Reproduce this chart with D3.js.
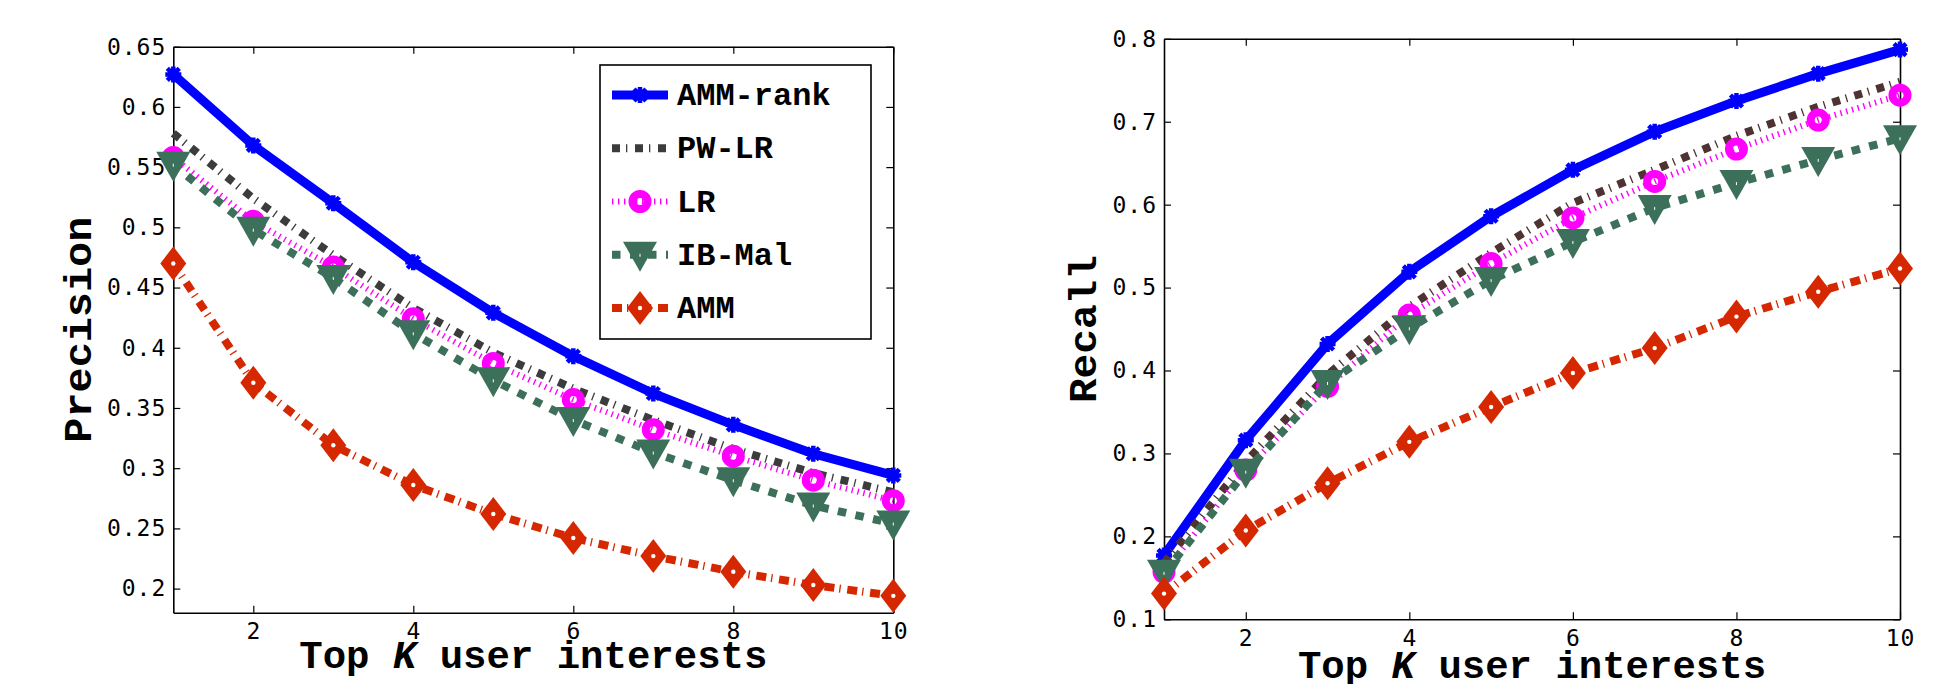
<!DOCTYPE html>
<html>
<head>
<meta charset="utf-8">
<script src="https://cdn.jsdelivr.net/npm/d3@7/dist/d3.min.js"></script>
<style>
  html, body { margin: 0; padding: 0; background: #fff; }
  svg { display: block; }
  .tick text { font-family: "DejaVu Sans Mono", monospace; font-size: 23px; letter-spacing: 1px; fill: #000; }
  .axis-title { font-family: "Liberation Mono", "Courier New", monospace; font-weight: bold; font-size: 39px; fill: #000; }
  .legend-text { font-family: "Liberation Mono", "Courier New", monospace; font-weight: bold; font-size: 32px; fill: #000; }
</style>
</head>
<body>
<div id="chart"></div>
<script>
// values
const kValues = [1, 2, 3, 4, 5, 6, 7, 8, 9, 10];
const seriesNames = ["AMM-rank", "PW-LR", "LR", "IB-Mal", "AMM"];

const precisionAMMrank = [0.627, 0.568, 0.520, 0.471, 0.429, 0.393, 0.362, 0.336, 0.312, 0.294];
const precisionPWLR    = [0.578, 0.524, 0.477, 0.433, 0.396, 0.366, 0.340, 0.316, 0.296, 0.280];
const precisionLR      = [0.558, 0.505, 0.467, 0.424, 0.387, 0.357, 0.332, 0.310, 0.290, 0.273];
const precisionIBMal   = [0.552, 0.498, 0.458, 0.412, 0.373, 0.340, 0.313, 0.290, 0.269, 0.254];
const precisionAMM     = [0.470, 0.371, 0.319, 0.286, 0.262, 0.242, 0.227, 0.214, 0.203, 0.194];

const recallAMMrank = [0.177, 0.316, 0.432, 0.519, 0.586, 0.642, 0.688, 0.725, 0.758, 0.787];
const recallPWLR    = [0.168, 0.290, 0.395, 0.477, 0.542, 0.602, 0.642, 0.683, 0.718, 0.748];
const recallLR      = [0.157, 0.280, 0.381, 0.467, 0.529, 0.584, 0.628, 0.667, 0.702, 0.732];
const recallIBMal   = [0.156, 0.278, 0.385, 0.451, 0.509, 0.555, 0.596, 0.626, 0.654, 0.680];
const recallAMM     = [0.131, 0.207, 0.264, 0.314, 0.356, 0.397, 0.427, 0.465, 0.495, 0.523];

const xTicks = [2, 4, 6, 8, 10];
const precisionTicks = [0.2, 0.25, 0.3, 0.35, 0.4, 0.45, 0.5, 0.55, 0.6, 0.65];
const recallTicks = [0.1, 0.2, 0.3, 0.4, 0.5, 0.6, 0.7, 0.8];

const W = 1934, H = 684;

// line / marker styles, one per series
const styles = {
  "AMM-rank": { color: "#0000ff", width: 9, dash: null, marker: "star" },
  "PW-LR":    { color: "#3c3c3c", width: 8, dash: "8,6,1.3,7.7", marker: null },
  "LR":       { color: "#ff00ff", width: 6, dash: "1.4,4.6", marker: "circle" },
  "IB-Mal":   { color: "#3d705a", width: 8, dash: "8.5,9.5", marker: "tri" },
  "AMM":      { color: "#d62800", width: 8, dash: "10,5,1.3,6.7", marker: "diamond" }
};

const svg = d3.select("#chart").append("svg")
  .attr("width", W)
  .attr("height", H);

function drawMarker(g, type, color) {
  if (type === "star") {
    g.append("path")
      .attr("d", "M-8,0H8M0,-8V8M-6,-6L6,6M-6,6L6,-6")
      .attr("stroke", color).attr("stroke-width", 4.5).attr("fill", "none");
  } else if (type === "circle") {
    g.append("circle").attr("r", 7.5)
      .attr("fill", "none").attr("stroke", color).attr("stroke-width", 8);
  } else if (type === "tri") {
    g.append("path").attr("d", "M-17,-13L17,-13L0,17Z").attr("fill", color);
    g.append("path").attr("d", "M0,-1L0,2").attr("stroke", "#fff").attr("stroke-width", 1);
  } else if (type === "diamond") {
    g.append("path").attr("d", "M0,-17L13,0L0,17L-13,0Z").attr("fill", color);
    g.append("circle").attr("r", 2.2).attr("fill", "#fff");
  }
}

function drawPanel(opt) {
  const { left, right, top, bottom, yDomain, yTicks, series, yTitle, yTitleX, yTitleLen, xTitleY, pwColor } = opt;

  const x = d3.scaleLinear().domain([1, 10]).range([left, right]);
  const y = d3.scaleLinear().domain(yDomain).range([bottom, top]);
  const fmt = d => String(+d.toFixed(2));

  const g = svg.append("g");

  // axes (inward ticks on all four sides, MATLAB box)
  const axB = g.append("g").attr("transform", `translate(0,${bottom})`)
    .call(d3.axisBottom(x).tickValues(xTicks).tickSize(-7).tickSizeOuter(0).tickPadding(10));
  const axT = g.append("g").attr("transform", `translate(0,${top})`)
    .call(d3.axisTop(x).tickValues(xTicks).tickSize(-7).tickSizeOuter(0).tickFormat(""));
  const axL = g.append("g").attr("transform", `translate(${left},0)`)
    .call(d3.axisLeft(y).tickValues(yTicks).tickSize(-7).tickSizeOuter(0).tickPadding(7).tickFormat(fmt));
  const axR = g.append("g").attr("transform", `translate(${right},0)`)
    .call(d3.axisRight(y).tickValues(yTicks).tickSize(-7).tickSizeOuter(0).tickFormat(""));

  [axB, axT, axL, axR].forEach(a => {
    a.select(".domain").attr("stroke", "#000").attr("stroke-width", 1.6);
    a.selectAll(".tick line").attr("stroke", "#000").attr("stroke-width", 1.2);
    a.selectAll(".tick text").attr("font-family", null).attr("font-size", null);
  });

  const line = d3.line()
    .x((d, i) => x(kValues[i]))
    .y(d => y(d));

  series.forEach((vals, si) => {
    const name = seriesNames[si];
    const st = styles[name];
    const color = name === "PW-LR" ? pwColor : st.color;
    g.append("path")
      .datum(vals)
      .attr("d", line)
      .attr("fill", "none")
      .attr("stroke", color)
      .attr("stroke-width", st.width)
      .attr("stroke-dasharray", st.dash)
      .attr("stroke-linecap", "butt")
      .attr("stroke-linejoin", "round");
    if (st.marker) {
      vals.forEach((v, i) => {
        const mg = g.append("g").attr("transform", `translate(${x(kValues[i])},${y(v)})`);
        drawMarker(mg, st.marker, color);
      });
    }
  });

  // titles
  const xt = g.append("text")
    .attr("class", "axis-title")
    .attr("x", (left + right) / 2)
    .attr("y", xTitleY)
    .attr("text-anchor", "middle");
  xt.append("tspan").text("Top ");
  xt.append("tspan").attr("font-style", "italic").text("K");
  xt.append("tspan").text(" user interests");

  g.append("text")
    .attr("class", "axis-title")
    .attr("transform", `translate(${yTitleX},${(top + bottom) / 2}) rotate(-90)`)
    .attr("text-anchor", "middle")
    .attr("textLength", yTitleLen)
    .attr("lengthAdjust", "spacingAndGlyphs")
    .text(yTitle);
}

drawPanel({
  left: 173.3, right: 893.3, top: 46.7, bottom: 612.7,
  yDomain: [0.18, 0.65], yTicks: precisionTicks,
  series: [precisionAMMrank, precisionPWLR, precisionLR, precisionIBMal, precisionAMM],
  yTitle: "Precision", yTitleX: 91, yTitleLen: 226, xTitleY: 668, pwColor: "#3c3c3c"
});

drawPanel({
  left: 1164, right: 1900, top: 38.8, bottom: 619.3,
  yDomain: [0.1, 0.8], yTicks: recallTicks,
  series: [recallAMMrank, recallPWLR, recallLR, recallIBMal, recallAMM],
  yTitle: "Recall", yTitleX: 1096, yTitleLen: 148, xTitleY: 678, pwColor: "#4f3232"
});

// legend (left panel)
const lg = svg.append("g");
lg.append("rect")
  .attr("x", 600).attr("y", 65)
  .attr("width", 271).attr("height", 274)
  .attr("fill", "#fff").attr("stroke", "#000").attr("stroke-width", 1.6);

const rowY = d3.scalePoint().domain(seriesNames).range([95, 308]);
seriesNames.forEach(name => {
  const st = styles[name];
  const cy = rowY(name);
  lg.append("line")
    .attr("x1", 612).attr("x2", 668).attr("y1", cy).attr("y2", cy)
    .attr("stroke", st.color)
    .attr("stroke-width", st.width)
    .attr("stroke-dasharray", st.dash);
  if (st.marker) {
    drawMarker(lg.append("g").attr("transform", `translate(640,${cy})`), st.marker, st.color);
  }
  lg.append("text")
    .attr("class", "legend-text")
    .attr("x", 677).attr("y", cy + 10)
    .text(name);
});
</script>
</body>
</html>
